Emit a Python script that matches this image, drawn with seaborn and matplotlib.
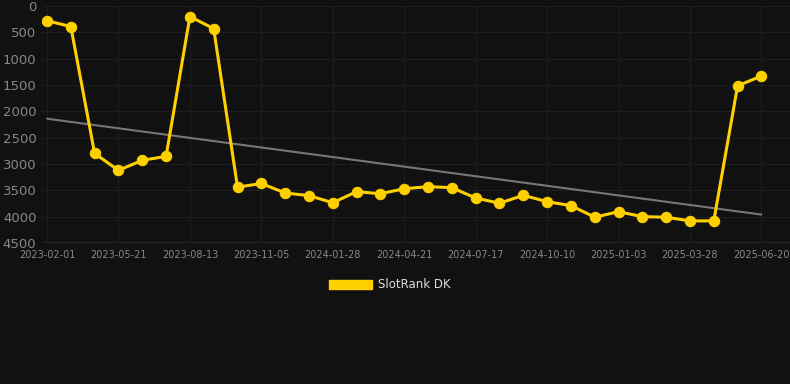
import matplotlib
matplotlib.use("Agg")
import matplotlib.pyplot as plt
import matplotlib.patches as mpatches
import numpy as np
import pandas as pd
import seaborn as sns

# dates (one point roughly every 4 weeks), every 3rd one is labelled
dates = ["2023-02-01", "2023-03-08", "2023-04-14", "2023-05-21", "2023-06-18", "2023-07-16",
         "2023-08-13", "2023-09-10", "2023-10-08", "2023-11-05", "2023-12-03", "2023-12-31",
         "2024-01-28", "2024-02-25", "2024-03-24", "2024-04-21", "2024-05-19", "2024-06-18",
         "2024-07-17", "2024-08-14", "2024-09-12", "2024-10-10", "2024-11-07", "2024-12-06",
         "2025-01-03", "2025-01-31", "2025-02-28", "2025-03-28", "2025-04-25", "2025-05-23",
         "2025-06-20"]
rank = [280, 390, 2800, 3120, 2930, 2855, 200, 430, 3440, 3370,
        3550, 3600, 3735, 3525, 3565, 3470, 3430, 3450, 3645, 3745,
        3595, 3715, 3790, 4010, 3905, 4000, 4010, 4080, 4080, 1515,
        1330]
# trend line, start and end value
trend_ends = [2140, 3960]

df = pd.DataFrame({"date": dates, "rank": rank})
df["i"] = np.arange(len(df))
trend = pd.DataFrame({"i": [0, len(df) - 1], "trend": trend_ends})

bg = "#111111"
yellow = "#ffd000"

sns.set_style("dark")
fig = plt.figure(figsize=(7.9, 3.84), dpi=100, facecolor=bg)
ax = fig.add_axes([42 / 790, 1 - 243 / 384, 748 / 790, 237 / 384])
ax.set_facecolor(bg)

sns.lineplot(data=trend, x="i", y="trend", ax=ax, color="#777777", linewidth=1.5)
sns.lineplot(data=df, x="i", y="rank", ax=ax, color=yellow, linewidth=2.2,
             marker="o", markersize=7.5, markeredgecolor=yellow)

ax.set_xlim(-0.21, 31.2)
ax.set_ylim(4500, 0)
ax.set_yticks(np.arange(0, 4501, 500))
ax.set_xticks(df["i"][::3])
ax.set_xticklabels(df["date"][::3])
ax.tick_params(axis="y", colors="#888888", labelsize=9.5, length=0, pad=4)
ax.tick_params(axis="x", colors="#888888", labelsize=7, length=0, pad=5)
ax.grid(True, color="#1e1e1e", linewidth=0.8)
ax.axhline(4500, color="#2c2c2c", linewidth=1.2, zorder=0)
for s in ax.spines.values():
    s.set_visible(False)
ax.set_xlabel("")
ax.set_ylabel("")

handle = mpatches.Patch(color=yellow, label="SlotRank DK")
fig.legend(handles=[handle], loc="center", bbox_to_anchor=(390 / 790, 1 - 285 / 384),
           frameon=False, labelcolor="#dddddd", fontsize=8.5,
           handlelength=3.6, handleheight=0.9, handletextpad=0.5)

fig.savefig("out.png", dpi=100, facecolor=bg)
